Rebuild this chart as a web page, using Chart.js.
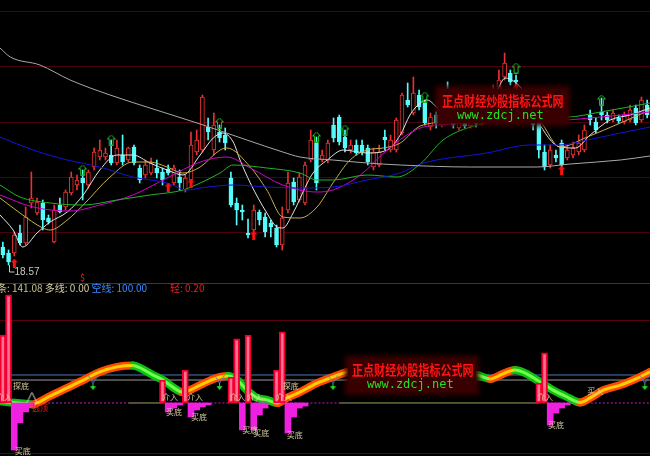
<!DOCTYPE html>
<html>
<head>
<meta charset="utf-8">
<script src="https://cdn.jsdelivr.net/npm/chart.js@4.4.0/dist/chart.umd.min.js"></script>
<style>
body{margin:0;background:#000;width:650px;height:456px;overflow:hidden;position:relative;font-family:"Noto Sans CJK SC",sans-serif}
#top{position:absolute;left:0;top:0}
#bot{position:absolute;left:0;top:284px}
.sep{position:absolute;left:0;top:283px;width:650px;height:1px;background:#c00000}
.wm{position:absolute;background:#380000;box-shadow:0 0 5px 3px #380000}
.wm .cn{color:#ff1414;font-size:14px;font-weight:bold;line-height:16px;white-space:nowrap;transform:scaleX(.79);transform-origin:0 0}
.wm .en{color:#22e022;font-family:"DejaVu Sans Mono",monospace;font-size:12px;line-height:12px;white-space:nowrap}
.leg{position:absolute;top:282px;font-size:10px;line-height:12px;white-space:nowrap}
</style>
</head>
<body>
<canvas id="top" width="650" height="283"></canvas>
<canvas id="bot" width="650" height="172"></canvas>
<div class="sep"></div>
<div class="leg" style="left:-3px"><span style="color:#c8c090">条: 141.08</span> <span style="color:#d8d0a8">多线: 0.00</span> <span style="color:#3a8cff">空线: 100.00</span></div>
<div class="leg" style="left:170px;color:#e02020">轻: 0.20</div>
<div class="leg" style="left:80px;top:272px;color:#e02020;font-size:9px">$</div>
<div class="wm" style="left:438px;top:89px;width:129px;height:34px">
  <div class="cn" style="margin:3px 0 0 4px">正点财经炒股指标公式网</div>
  <div class="en" style="margin:1px 0 0 19px">www.zdcj.net</div>
</div>
<div class="wm" style="left:348px;top:359px;width:128px;height:33px">
  <div class="cn" style="margin:2px 0 0 4px">正点财经炒股指标公式网</div>
  <div class="en" style="margin:1px 0 0 19px">www.zdcj.net</div>
</div>
<script>
// K线 (价格)
var opens = [18.93,18.81,18.81,19.21,19.01,19.81,19.61,19.81,19.51,19.03,
  19.77,19.73,20.01,20.17,20.31,20.17,20.53,20.73,20.73,20.77,
  20.61,20.77,20.67,20.93,20.51,20.37,20.41,20.51,20.43,20.49,
  20.21,20.33,20.07,20.27,20.83,20.87,21.33,20.87,21.23,21.17,
  20.31,19.81,19.67,19.21,19.27,19.63,19.53,19.41,19.31,18.97,
  19.67,20.23,19.87,19.81,20.67,21.01,20.67,20.67,21.37,21.53,
  21.13,20.87,20.97,20.97,20.91,20.53,20.57,21.13,20.87,20.87,
  21.21,21.87,21.61,21.97,21.81,21.33,21.57,21.37,21.97,21.57,
  21.31,21.47,21.35,21.51,21.41,21.47,21.67,22.03,22.33,22.41,
  22.27,21.87,21.47,21.51,21.47,20.83,20.57,20.77,21.01,20.71,
  20.77,20.83,20.87,21.57,21.43,21.63,21.57,21.47,21.51,21.43,
  21.47,21.71,21.47,21.77];
var closes = [18.77,18.63,19.17,19.01,19.53,19.91,19.83,19.47,19.43,19.67,
  19.63,20.03,20.33,20.27,20.21,20.43,20.83,20.87,20.81,20.61,
  20.91,20.63,20.91,20.61,20.27,20.57,20.61,20.41,20.27,20.41,
  20.51,20.21,20.31,20.97,21.07,21.93,21.23,21.37,21.11,21.01,
  19.77,19.67,19.63,19.17,19.67,19.47,19.23,19.33,18.97,19.51,
  20.21,19.83,20.33,20.57,21.07,20.21,20.77,21.01,21.11,21.03,
  20.91,20.97,20.81,20.83,20.63,20.83,20.83,21.07,21.07,21.47,
  21.97,21.77,22.01,21.73,21.41,21.53,21.41,21.51,21.87,21.37,
  21.43,21.35,21.51,21.39,21.57,21.67,22.07,22.27,22.61,22.23,
  22.23,21.63,21.67,21.37,20.87,20.53,20.87,20.71,20.57,20.87,
  20.91,21.01,21.27,21.47,21.27,21.57,21.47,21.61,21.45,21.57,
  21.67,21.41,21.87,21.57];
var highs = [19.03,18.87,19.23,19.37,19.73,20.43,19.91,19.87,19.57,19.77,
  19.91,20.07,20.43,20.37,20.47,20.47,20.91,21.07,20.91,21.07,
  21.07,21.17,20.93,20.97,20.57,20.67,20.71,20.67,20.51,20.57,
  20.57,20.47,20.37,21.23,21.27,21.97,21.51,21.61,21.37,21.31,
  20.43,19.91,19.77,19.49,19.77,19.67,19.61,19.47,19.37,19.73,
  20.43,20.31,20.41,20.63,21.27,21.13,20.87,21.07,21.51,21.57,
  21.27,21.07,21.07,21.07,20.97,20.91,20.97,21.27,21.17,21.51,
  22.01,22.21,22.33,22.07,21.87,21.61,21.63,21.57,22.23,21.67,
  21.51,21.55,21.57,21.59,21.67,21.77,22.17,22.47,22.81,22.47,
  22.37,21.97,21.77,21.57,21.57,20.97,20.97,20.87,21.07,20.97,
  21.03,21.17,21.37,21.67,21.51,21.91,21.63,21.67,21.57,21.63,
  21.77,21.77,21.93,21.87];
var lows = [18.71,18.57,18.75,18.97,18.97,19.71,19.57,19.27,19.39,19.01,
  19.61,19.67,19.97,20.07,19.87,20.11,20.47,20.67,20.67,20.57,
  20.57,20.57,20.63,20.57,20.21,20.31,20.37,20.31,20.17,20.37,
  20.17,20.07,20.03,20.23,20.77,20.83,21.07,20.77,21.03,20.87,
  19.73,19.37,19.47,19.11,19.23,19.37,19.13,19.13,18.93,18.87,
  19.61,19.77,19.83,19.77,20.63,20.07,20.63,20.61,21.03,20.97,
  20.83,20.81,20.77,20.77,20.57,20.47,20.53,20.87,20.83,20.83,
  21.17,21.73,21.57,21.67,21.37,21.27,21.31,21.33,21.77,21.31,
  21.27,21.31,21.31,21.33,21.37,21.43,21.63,21.97,22.27,22.17,
  22.11,21.51,21.43,21.27,20.71,20.47,20.51,20.63,20.51,20.67,
  20.71,20.77,20.83,21.37,21.21,21.47,21.41,21.43,21.41,21.39,
  21.43,21.37,21.43,21.51];

// 均线 (读图取点)
var whiteIdx = [-0.5,1.8,3.5,6,8.3,11.3,14.1,17,20,22.8,25.8,28.8,31.6,34.6,36.9,38.6,40.4,41.6,43.4,46.3,48.1,49.1,50.9,53.4,54.4,56.9,59.7,63.9,67.4,69.7,71.4,73.2,74.4,76.7,82,86.3,88.1,89.8,91.4,93.7,97.7,100.4,103,106.5,110,113.5];
var whiteVal = [19.57,19.27,18.93,19.21,19.43,19.63,19.97,20.47,20.77,20.77,20.61,20.47,20.37,20.77,21.11,21.21,21.03,20.67,20.21,19.61,19.33,19.31,19.61,20.21,20.41,20.67,20.87,20.81,20.87,21.17,21.57,21.81,21.87,21.67,21.51,21.97,22.31,22.23,22.03,21.47,20.93,20.91,21.17,21.47,21.57,21.71];
var yellowIdx = [-0.5,3,7,8.3,11.3,14.1,18.8,22.8,25.8,28.8,31.6,34.6,38.1,39.3,43.4,46.3,49.1,52.1,55.1,57.9,60.9,63.9,66.7,69.7,73.2,78.4,87.2,93.7,97.7,102.5,108.3,113.5];
var yellowVal = [19.91,19.61,19.31,19.27,19.47,19.77,20.33,20.63,20.63,20.53,20.41,20.53,20.87,20.91,20.53,20.07,19.53,19.51,19.73,20.21,20.67,20.87,20.91,21.01,21.35,21.43,21.51,21.47,20.93,21.13,21.41,21.67];
var magentaIdx = [-0.5,5.3,11.8,17,22.8,28.8,34.6,39.3,43.4,49.1,55.1,57.9,62.7,67.4,73.2,79,84.9,92.5,97.7,104.8,113.5];
var magentaVal = [19.97,19.73,19.65,19.77,19.97,20.31,20.63,20.73,20.51,20.17,20.03,20.07,20.37,20.87,21.31,21.39,21.47,21.51,21.47,21.53,21.63];
var greenIdx = [-0.5,3,8.3,14.1,20,25.8,31.6,34.6,38.1,40.4,46.3,52.1,55.1,57.9,63.9,69.1,73.2,77.2,82,87.7,94.2,99,104.8,113.5];
var greenVal = [20.17,19.93,19.81,19.77,19.87,19.97,20.07,20.21,20.41,20.57,20.51,20.41,20.27,20.27,20.37,20.33,20.59,21.07,21.33,21.47,21.53,21.53,21.63,21.81];
var blueIdx = [-0.5,5.3,11.3,17,22.8,28.8,32.3,34.6,40.4,46.3,52.1,57.9,63.9,69.7,73.2,84.9,92.5,97.7,102.5,108.3,113.5];
var blueVal = [21.13,20.87,20.67,20.53,20.33,20.21,20.07,20.11,20.17,20.13,20.11,20.13,20.27,20.41,20.59,20.81,20.97,20.97,21.07,21.21,21.33];
var grayIdx = [-0.5,1.3,6.5,11.8,18.8,25.8,34.6,42.8,49.1,52.1,57.9,63.9,69.7,82,93.7,99.5,108.3,113.5];
var grayVal = [22.91,22.73,22.57,22.27,21.97,21.71,21.39,21.07,20.83,20.73,20.67,20.61,20.57,20.53,20.53,20.59,20.67,20.75];

// 信号
var greenUpIdx = [14,19,38,55,60,74,90,105];
var greenUpVal = [20.47,21.07,21.41,21.13,21.27,21.93,22.51,21.87];
var redUpIdx = [2,29,33,44,98,90];
var redUpVal = [18.61,20.13,20.21,19.17,20.47,22.11];
var priceGrid = [23.65,22.55,21.43,20.33,19.23];

// 副图
var redBarIdx = [0,1,28,32,40,41,43,48,49,94,95];
var redBarVal = [243,386,82,118,93,229,243,118,254,71,179];
var pinkBarIdx = [2,3,4,5,29,30,31,33,34,35,36,42,44,45,46,50,51,52,53,96,97,98,99];
var pinkBarVal = [-168,-71,-32,-11,-32,-18,-7,-50,-25,-14,-7,-96,-96,-43,-18,-107,-50,-18,-11,-79,-36,-18,-7];
var waveIdx = [-0.5,1,2.5,4,5.3,6.5,8.3,11.3,14.1,17,20,22.8,24.1,26.3,28.1,29.8,31.4,32.8,34.6,36.3,38.1,39.5,41.1,42.8,44.6,46.3,48.1,49.8,52.1,55.1,57.9,60.4,63.5,67,71.4,76.7,81.1,83.2,85.5,87.7,89.8,91.6,93.7,95.1,96.5,98.6,100.7,101.2,103,105.3,108.3,111.3,113.5];
var waveVal = [6,3,0,-3,-5,5,25,54,82,111,129,134,125,100,82,57,39,46,64,80,93,96,82,46,18,11,0,18,39,71,93,111,125,132,126,114,104,100,86,104,118,107,82,64,46,25,4,2,18,46,64,89,111];
var longLine = 100, shortLine = 82;
var downIdx = [15.8,38,57.9,112.6];
var baseIdx = [-0.5,22,28,59,94,113.5];
var subGrid = [296,-179];

var RED = '#e83232', CYAN = '#54fcfc';
var ix = closes.map(function(_, i){ return i; });
function isUp(i){ return closes[i] >= opens[i]; }
function pts(xs, ys){ return xs.map(function(x, k){ return {x: x, y: ys[k]}; }); }

function mk(w, h, fn){ var c = document.createElement('canvas'); c.width = w; c.height = h; fn(c.getContext('2d')); return c; }
var redArrow = mk(7, 9, function(g){
  g.fillStyle = '#ff1010'; g.beginPath(); g.moveTo(3.5,0); g.lineTo(7,4); g.lineTo(0,4); g.fill(); g.fillRect(2,4,3,5);
});
var greenArrow = mk(9, 11, function(g){
  g.strokeStyle = '#20c020'; g.lineWidth = 1; g.beginPath();
  g.moveTo(4.5,0.5); g.lineTo(8.5,4.5); g.lineTo(6.5,4.5); g.lineTo(6.5,10.5); g.lineTo(2.5,10.5); g.lineTo(2.5,4.5); g.lineTo(0.5,4.5); g.closePath(); g.stroke();
});
var vDown = mk(11, 16, function(g){
  g.strokeStyle = '#5a80c0'; g.lineWidth = 1; g.beginPath(); g.moveTo(0.5,0); g.lineTo(5.5,8); g.lineTo(10.5,0); g.stroke();
  g.fillStyle = '#20e020'; g.fillRect(5,8,1,4); g.beginPath(); g.moveTo(2.5,11); g.lineTo(8.5,11); g.lineTo(5.5,15); g.fill();
});
var caret = mk(11, 11, function(g){
  g.strokeStyle = '#d0d0d0'; g.lineWidth = 1; g.beginPath(); g.moveTo(0.5,10.5); g.lineTo(5.5,0.5); g.lineTo(10.5,10.5); g.stroke();
});

var guides = {
  id: 'guides',
  beforeDatasetsDraw: function(chart, args, o){
    var ctx = chart.ctx, a = chart.chartArea, y = chart.scales.y;
    ctx.save();
    (o.lines || []).forEach(function(l){
      var py = Math.round(y.getPixelForValue(l.v)) + 0.5;
      ctx.strokeStyle = l.c; ctx.lineWidth = 1;
      ctx.beginPath(); ctx.moveTo(a.left, py); ctx.lineTo(a.right, py); ctx.stroke();
    });
    ctx.restore();
  },
  afterDatasetsDraw: function(chart, args, o){
    var ctx = chart.ctx, x = chart.scales.x, y = chart.scales.y;
    ctx.save();
    ctx.textBaseline = 'middle';
    (o.notes || []).forEach(function(n){
      ctx.font = n.f; ctx.fillStyle = n.c;
      ctx.fillText(n.t, x.getPixelForValue(n.i), y.getPixelForValue(n.v));
    });
    if (o.low) {
      var px = Math.round(x.getPixelForValue(o.low.i)) + 0.5, py = y.getPixelForValue(o.low.v);
      ctx.strokeStyle = '#c8c8c8'; ctx.lineWidth = 1;
      ctx.beginPath(); ctx.moveTo(px, py); ctx.lineTo(px, py + 7); ctx.lineTo(px + 5, py + 7); ctx.stroke();
      ctx.font = '10px "Liberation Sans"'; ctx.fillStyle = '#c8c8c8';
      ctx.fillText(o.low.v.toFixed(2), px + 5, py + 7);
    }
    ctx.restore();
  }
};

function baseOpts(ymin, ymax, plug){
  return {
    responsive: false, animation: false, events: [],
    layout: {padding: 0, autoPadding: false},
    plugins: {legend: {display: false}, tooltip: {enabled: false}, guides: plug},
    scales: {
      x: {type: 'linear', min: -0.5, max: 113.5, offset: false, display: false},
      y: {min: ymin, max: ymax, display: false}
    }
  };
}
function maLine(xs, ys, color){
  return {type: 'line', data: pts(xs, ys), borderColor: color, borderWidth: 1, pointRadius: 0, cubicInterpolationMode: 'monotone', order: 2};
}
function marks(xs, ys, img){
  return {type: 'scatter', data: pts(xs, ys), pointStyle: img, pointRadius: 5, order: 0};
}

new Chart(document.getElementById('top'), {
  type: 'bar',
  data: {datasets: [
    {type: 'bar', data: ix.map(function(i){ return {x: i, y: [lows[i], highs[i]]}; }), barThickness: 1, grouped: false,
     backgroundColor: ix.map(function(i){ return isUp(i) ? RED : CYAN; }), order: 6},
    {type: 'bar', data: ix.map(function(i){ return {x: i, y: [opens[i], closes[i]]}; }), barThickness: 4, grouped: false,
     backgroundColor: ix.map(function(i){ return isUp(i) ? '#000' : CYAN; }),
     borderColor: ix.map(function(i){ return isUp(i) ? RED : CYAN; }), borderWidth: 1, borderSkipped: false, order: 5},
    maLine(grayIdx, grayVal, '#a8a8a8'),
    maLine(blueIdx, blueVal, '#1414d8'),
    maLine(greenIdx, greenVal, '#22b422'),
    maLine(magentaIdx, magentaVal, '#d000d0'),
    maLine(yellowIdx, yellowVal, '#c8b04a'),
    maLine(whiteIdx, whiteVal, '#e4e4e4'),
    marks(greenUpIdx, greenUpVal, greenArrow),
    marks(redUpIdx, redUpVal, redArrow)
  ]},
  options: baseOpts(18.21, 23.87, {
    lines: priceGrid.map(function(v){ return {v: v, c: '#4a0010'}; }),
    low: {i: 1, v: lows[1]}
  }),
  plugins: [guides]
});

var LBL = '8px "Noto Sans CJK SC"', BEIGE = '#d8cca0';
var subNotes = [
  {i: 1.8, v: 61, t: '探底'}, {i: -1.2, v: 21, t: '介入'}, {i: 2.1, v: -171, t: '买底'},
  {i: 27.9, v: 21, t: '介入'}, {i: 32.3, v: 21, t: '介入'}, {i: 28.6, v: -32, t: '买底'}, {i: 33, v: -50, t: '买底'},
  {i: 39.7, v: 21, t: '介入'}, {i: 42.8, v: 21, t: '介入'}, {i: 47.9, v: 21, t: '介入'}, {i: 49.1, v: 61, t: '探底'},
  {i: 42, v: -96, t: '买底'}, {i: 43.9, v: -107, t: '买底'}, {i: 49.8, v: -114, t: '买底'},
  {i: 93.7, v: 21, t: '介入'}, {i: 95.6, v: -79, t: '买底'}, {i: 102.5, v: 43, t: '买入'}
].map(function(n){ n.f = LBL; n.c = BEIGE; return n; });
subNotes.push({i: 5.1, v: -18, t: '逃顶', f: LBL, c: '#e02020'});

function desc(c){ return c.p1.parsed.y < c.p0.parsed.y; }

new Chart(document.getElementById('bot'), {
  type: 'bar',
  data: {datasets: [
    {type: 'line', data: pts(baseIdx, baseIdx.map(function(){ return 0; })), borderWidth: 1, pointRadius: 0, order: 9,
     segment: {borderColor: function(c){ return c.p0DataIndex % 2 ? '#a0a060' : '#c020c0'; },
               borderDash: function(c){ return c.p0DataIndex % 2 ? [] : [2, 2]; }}},
    {type: 'line', data: pts([-0.5, 113.5], [longLine, longLine]), borderColor: '#4a78b8', borderWidth: 1, pointRadius: 0, order: 9},
    {type: 'line', data: pts([-0.5, 113.5], [shortLine, shortLine]), borderColor: '#9a9a9a', borderWidth: 1, pointRadius: 0, order: 9},
    {type: 'line', data: pts(waveIdx, waveVal), borderWidth: 8, pointRadius: 0, cubicInterpolationMode: 'monotone', borderCapStyle: 'round', order: 8,
     segment: {borderColor: function(c){ return desc(c) ? '#10c010' : '#ff4a00'; }}},
    {type: 'line', data: pts(waveIdx, waveVal), borderWidth: 3, pointRadius: 0, cubicInterpolationMode: 'monotone', order: 7,
     segment: {borderColor: function(c){ return desc(c) ? '#70ff50' : '#ffd000'; }}},
    {type: 'bar', data: pts(redBarIdx, redBarVal), barThickness: 6, grouped: false, backgroundColor: '#ff7090',
     borderColor: '#f00030', borderWidth: 2, borderSkipped: false, order: 4},
    {type: 'bar', data: pts(pinkBarIdx, pinkBarVal), barThickness: 6, grouped: false, backgroundColor: '#f020e0', order: 4},
    marks(downIdx, downIdx.map(function(){ return 71; }), vDown),
    marks([5.1], [20], caret)
  ]},
  options: baseOpts(-189.3, 425, {
    lines: subGrid.map(function(v){ return {v: v, c: '#5a0010'}; }),
    notes: subNotes
  }),
  plugins: [guides]
});
</script>
</body>
</html>
